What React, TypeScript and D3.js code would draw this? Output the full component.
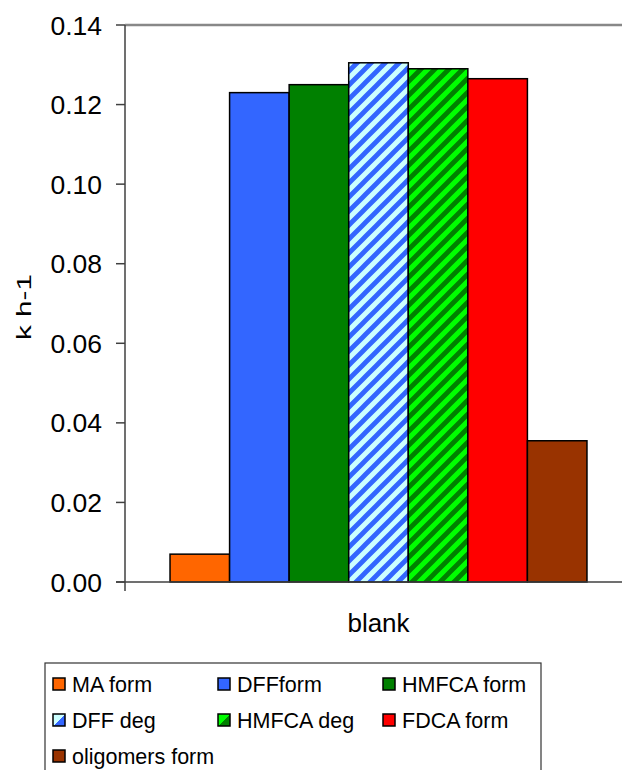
import React from "react";
import * as d3 from "d3";

const seriesNames = ["MA form", "DFFform", "HMFCA form", "DFF deg", "HMFCA deg", "FDCA form", "oligomers form"];
const seriesValues = [0.007, 0.123, 0.125, 0.1305, 0.129, 0.1265, 0.0355];
const seriesFills = ["#FF6600", "#3366FF", "#008000", "url(#patDFF)", "url(#patHMF)", "#FF0000", "#993300"];
const legendFills = ["#FF6600", "#3366FF", "#008000", "url(#patDFFs)", "url(#patHMFs)", "#FF0000", "#993300"];
const categories = ["blank"];
const yTicks = [0, 0.02, 0.04, 0.06, 0.08, 0.1, 0.12, 0.14];

export default function App() {
  const W = 622, H = 770;
  const left = 125, right = 632, top = 25, bottom = 582;
  const y = d3.scaleLinear().domain([0, 0.14]).range([bottom, top]);
  const x = d3.scaleBand().domain(categories).range([left, right]).paddingInner(0).paddingOuter(0.108);
  const inner = d3.scaleBand().domain(seriesNames).range([0, x.bandwidth()]);
  const font = "Liberation Sans, Arial, sans-serif";
  const legendCols = [53, 218, 383];
  const legendRows = [684, 720, 756];
  const P = 14;
  const stripe = `M${-P / 2},${P / 2} L${P / 2},${-P / 2} M0,${P} L${P},0 M${P / 2},${P * 1.5} L${P * 1.5},${P / 2}`;
  return (
    <svg width={W} height={H} style={{ position: "absolute", left: 0, top: 0 }}>
      <defs>
        <pattern id="patDFF" patternUnits="userSpaceOnUse" width={P} height={P}>
          <rect width={P} height={P} fill="#CCFFFF" />
          <path d={stripe} stroke="#3366FF" strokeWidth={4.8} />
        </pattern>
        <pattern id="patHMF" patternUnits="userSpaceOnUse" width={P} height={P}>
          <rect width={P} height={P} fill="#00FF00" />
          <path d={stripe} stroke="#008000" strokeWidth={4.8} />
        </pattern>
        <linearGradient id="patDFFs" x1="0" y1="0" x2="1" y2="1">
          <stop offset="0.5" stopColor="#CCFFFF" />
          <stop offset="0.5" stopColor="#3366FF" />
        </linearGradient>
        <linearGradient id="patHMFs" x1="0" y1="0" x2="1" y2="1">
          <stop offset="0.5" stopColor="#00FF00" />
          <stop offset="0.5" stopColor="#008000" />
        </linearGradient>
      </defs>
      <rect width={W} height={H} fill="#fff" />
      <line x1={left} x2={W} y1={top} y2={top} stroke="#888" strokeWidth={2.5} />
      {categories.map((c) =>
        seriesNames.map((s, i) => {
          const bx = (x(c) as number) + (inner(s) as number);
          const v = seriesValues[i];
          return (
            <rect key={s} x={bx} y={y(v)} width={inner.bandwidth()} height={bottom - y(v)}
              fill={seriesFills[i]} stroke="#000" strokeWidth={1.5} />
          );
        })
      )}
      <line x1={left} x2={left} y1={top} y2={bottom + 9} stroke="#404040" strokeWidth={1.5} />
      <line x1={left - 9} x2={W} y1={bottom} y2={bottom} stroke="#404040" strokeWidth={1.5} />
      {yTicks.map((t) => (
        <g key={t}>
          <line x1={left - 9} x2={left} y1={y(t)} y2={y(t)} stroke="#404040" strokeWidth={1.5} />
          <text x={102} y={y(t)} dy="0.36em" textAnchor="end" fontFamily={font} fontSize={26.5} fill="#000">
            {t.toFixed(2)}
          </text>
        </g>
      ))}
      {categories.map((c) => (
        <text key={c} x={(x(c) as number) + x.bandwidth() / 2} y={632} textAnchor="middle"
          fontFamily={font} fontSize={26} fill="#000">{c}</text>
      ))}
      <text transform={`translate(31,${307}) rotate(-90)`} textAnchor="middle"
        fontFamily={font} fontSize={21} textLength={66} lengthAdjust="spacingAndGlyphs" fill="#000">k h-1</text>
      <rect x={45} y={663} width={496} height={120} fill="#fff" stroke="#333" strokeWidth={1.2} />
      {seriesNames.map((s, i) => {
        const cx = legendCols[i % 3];
        const cy = legendRows[Math.floor(i / 3)];
        return (
          <g key={s}>
            <rect x={cx} y={cy - 6} width={12} height={12} fill={legendFills[i]} stroke="#000" strokeWidth={1.5} />
            <text x={cx + 19} y={cy} dy="0.36em" fontFamily={font} fontSize={21.5} fill="#000">{s}</text>
          </g>
        );
      })}
    </svg>
  );
}
